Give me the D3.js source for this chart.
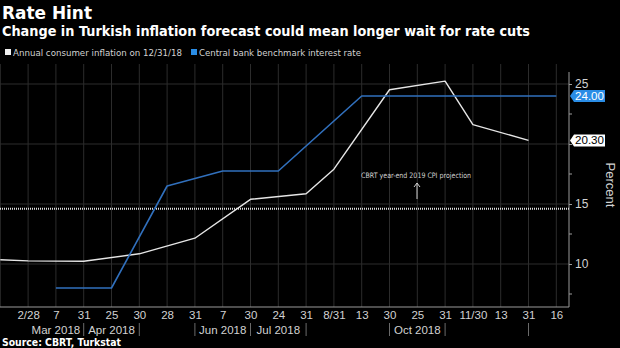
<!DOCTYPE html>
<html>
<head>
<meta charset="utf-8">
<script src="https://cdn.jsdelivr.net/npm/d3@7"></script>
<style>
html,body{margin:0;padding:0;background:#000;}
svg{display:block;}
</style>
</head>
<body>
<svg id="chart" width="620" height="348"></svg>
<script>
// ---- data ----
const dateLabels = ["", "2/28","7","31","25","30","28","31","7","30","24","31","8/31","13","30","25","31","11/30","13","31","16"];
const inflation  = [10.35, 10.26, null, 10.23, null, 10.85, null, 12.15, null, 15.39, null, 15.85, 17.90, null, 24.52, null, 25.24, 21.62, null, 20.30, null];
const policyRate = [null, null, 8.00, null, 8.00, null, 16.50, null, 17.75, null, 17.75, null, null, 24.00, null, null, null, null, null, null, 24.00];
const monthLabels = ["Mar 2018","Apr 2018","Jun 2018","Jul 2018","Oct 2018"];
const monthLabelAt = [2, 4, 8, 10, 15];
const monthSeparators = [3, 5, 7, 9, 11, 14, 16, 19];
const yTicks = [10, 15, 20, 25];
const yMinorTicks = [7.5, 12.5, 17.5, 22.5];
const cpiProjection = 14.6;
const seriesNames = ["Annual consumer inflation on 12/31/18", "Central bank benchmark interest rate"];

// ---- layout ----
const svg = d3.select("#chart");
svg.append("rect").attr("width",620).attr("height",348).attr("fill","#000");
const plotL = 0, plotR = 569, plotT = 64, plotB = 307;
const x = d3.scaleLinear().domain([0, 20]).range([0.3, 556.3]);
const y = d3.scaleLinear().domain([10 - 43/12, 10 + 200/12]).range([plotB, plotT]);
const idx = d3.range(dateLabels.length);

const blue = "#3170bd", blueLabel = "#2a8de6", white = "#e6e6e6", grid = "#2c2c2c", txt = "#d2d2d2";

// title
svg.append("text").attr("x",2).attr("y",19).attr("fill","#fff")
  .attr("font-family","DejaVu Sans").attr("font-weight","bold").attr("font-size",17.5)
  .attr("textLength",90).attr("lengthAdjust","spacingAndGlyphs").text("Rate Hint");
svg.append("text").attr("x",2).attr("y",36).attr("fill","#fff")
  .attr("font-family","DejaVu Sans").attr("font-weight","bold").attr("font-size",13.5)
  .attr("textLength",528).attr("lengthAdjust","spacingAndGlyphs")
  .text("Change in Turkish inflation forecast could mean longer wait for rate cuts");

// legend
const legend = [{name: seriesNames[0], color: "#f0f0f0", x: 5, w: 169}, {name: seriesNames[1], color: blueLabel, x: 191, w: 162}];
legend.forEach(l => {
  svg.append("rect").attr("x", l.x).attr("y", 49).attr("width", 6).attr("height", 6).attr("fill", l.color);
  svg.append("text").attr("x", l.x + 8).attr("y", 56).attr("fill", txt)
    .attr("font-family","DejaVu Sans").attr("font-size",9.5)
    .attr("textLength", l.w).attr("lengthAdjust","spacingAndGlyphs").text(l.name);
});

// grid
const g = svg.append("g");
g.selectAll(".vg").data(idx).enter().append("line")
  .attr("x1", d => x(d)).attr("x2", d => x(d)).attr("y1", plotT).attr("y2", plotB)
  .attr("stroke", grid).attr("stroke-width", 1);
g.selectAll(".hg").data(yTicks).enter().append("line")
  .attr("x1", plotL).attr("x2", plotR).attr("y1", d => y(d)).attr("y2", d => y(d))
  .attr("stroke", grid).attr("stroke-width", 1);

// axes lines
svg.append("line").attr("x1", plotL).attr("x2", plotR).attr("y1", plotB).attr("y2", plotB).attr("stroke", "#9a9a9a");
svg.append("line").attr("x1", plotR).attr("x2", plotR).attr("y1", 72).attr("y2", plotB).attr("stroke", "#9a9a9a");

// projection dotted line
svg.append("line").attr("x1", plotL).attr("x2", plotR).attr("y1", y(cpiProjection)).attr("y2", y(cpiProjection))
  .attr("stroke", "#e0e0e0").attr("stroke-width", 2).attr("stroke-dasharray", "1,1");

// annotation
svg.append("text").attr("x", 361).attr("y", 178).attr("fill", txt)
  .attr("font-family","DejaVu Sans").attr("font-size",7.5)
  .attr("textLength",110).attr("lengthAdjust","spacingAndGlyphs").text("CBRT year-end 2019 CPI projection");
svg.append("path").attr("d", "M417,199 L417,183 M414,187 L417,183 L420,187")
  .attr("stroke", "#cfcfcf").attr("stroke-width", 1).attr("fill", "none");

// lines
const line = d3.line().x(d => x(d.i)).y(d => y(d.v));
const toPts = arr => arr.map((v, i) => ({i, v})).filter(d => d.v != null);
svg.append("path").datum(toPts(inflation)).attr("d", line)
  .attr("fill","none").attr("stroke", white).attr("stroke-width", 1.4).attr("stroke-linejoin","round");
svg.append("path").datum(toPts(policyRate)).attr("d", line)
  .attr("fill","none").attr("stroke", blue).attr("stroke-width", 1.6).attr("stroke-linejoin","round");

// right axis
const endLabels = [
  {v: policyRate[policyRate.length - 1], fill: blueLabel, color: "#ffffff"},
  {v: inflation.filter(d => d != null).slice(-1)[0], fill: "#ffffff", color: "#000000"}
];
const yAxis = d3.axisRight(y).tickValues(yTicks).tickSize(3).tickPadding(3)
  .tickFormat(d => endLabels.some(l => Math.abs(y(l.v) - y(d)) < 9) ? "" : d);
const ya = svg.append("g").attr("transform", `translate(${plotR},0)`).call(yAxis);
ya.select(".domain").remove();
ya.selectAll("line").attr("stroke", "#9a9a9a");
ya.selectAll("text").attr("fill", txt).attr("font-family","Liberation Sans").attr("font-size", 12);
svg.selectAll(".minor").data(yMinorTicks).enter().append("line")
  .attr("x1", plotR).attr("x2", plotR + 3).attr("y1", d => y(d)).attr("y2", d => y(d)).attr("stroke", "#9a9a9a");

endLabels.forEach(l => {
  const cy = y(l.v), x0 = plotR + 1;
  svg.append("path").attr("d", `M${x0},${cy} L${x0+4},${cy-6} L${x0+35},${cy-6} L${x0+35},${cy+6} L${x0+4},${cy+6} Z`).attr("fill", l.fill);
  svg.append("text").attr("x", x0 + 5).attr("y", cy + 4).attr("fill", l.color)
    .attr("font-family","Liberation Sans").attr("font-size", 11)
    .attr("textLength", 29).attr("lengthAdjust","spacingAndGlyphs").text(d3.format(".2f")(l.v));
});

svg.append("text").attr("transform", "translate(606,185) rotate(90)").attr("text-anchor","middle")
  .attr("fill", txt).attr("font-family","Liberation Sans").attr("font-size", 13).text("Percent");

// bottom axis
const xAxis = d3.axisBottom(x).tickValues(idx).tickSize(0).tickPadding(4).tickFormat(i => dateLabels[i]);
const xa = svg.append("g").attr("transform", `translate(0,${plotB})`).call(xAxis);
xa.select(".domain").remove();
xa.selectAll("text").attr("fill", txt).attr("font-family","Liberation Sans").attr("font-size", 11.5);

svg.selectAll(".msep").data(monthSeparators).enter().append("line")
  .attr("x1", d => x(d)).attr("x2", d => x(d)).attr("y1", 323).attr("y2", 336).attr("stroke", "#6a6a6a");
svg.selectAll(".mlab").data(monthLabels).enter().append("text")
  .attr("x", (d, i) => x(monthLabelAt[i])).attr("y", 334).attr("text-anchor","middle")
  .attr("fill", txt).attr("font-family","Liberation Sans").attr("font-size", 11.5).text(d => d);

// source
svg.append("text").attr("x", 2).attr("y", 346).attr("fill", "#fff")
  .attr("font-family","DejaVu Sans").attr("font-weight","bold").attr("font-size", 10)
  .attr("textLength", 119).attr("lengthAdjust","spacingAndGlyphs").text("Source: CBRT, Turkstat");
</script>
</body>
</html>
